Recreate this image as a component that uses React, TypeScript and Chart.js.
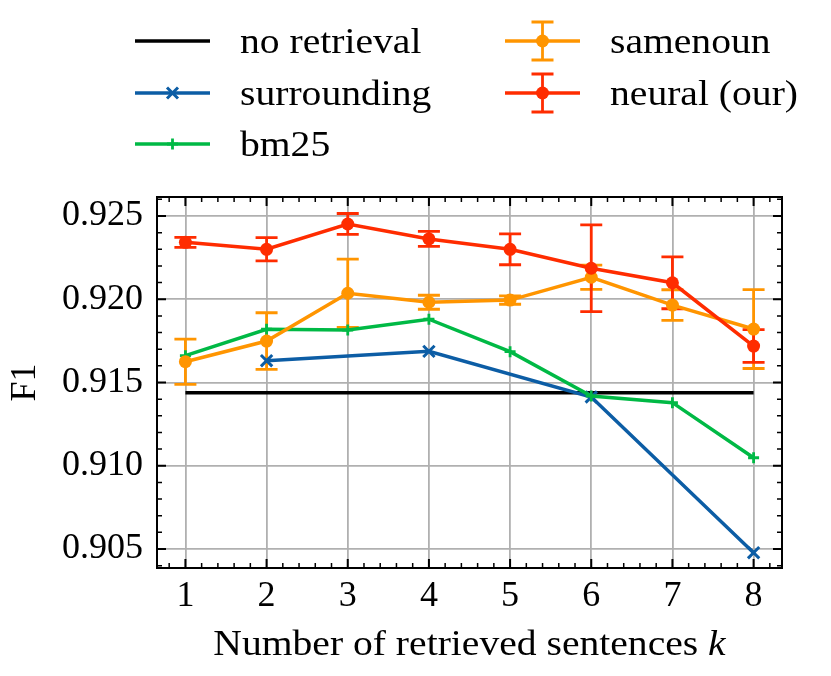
import { useEffect, useRef } from 'react';
import { Chart, registerables } from 'chart.js';

Chart.register(...registerables);

// values
const K_VALUES = [1, 2, 3, 4, 5, 6, 7, 8];
const NO_RETRIEVAL = [0.91439, 0.91439, 0.91439, 0.91439, 0.91439, 0.91439, 0.91439, 0.91439];
const SURROUNDING_K = [2, 4, 6, 8];
const SURROUNDING = [0.91631, 0.91687, 0.91413, 0.90478];
const BM25 = [0.91661, 0.9182, 0.91815, 0.9188, 0.91685, 0.91419, 0.91379, 0.91048];
const SAMENOUN = [0.91625, 0.91749, 0.92036, 0.91982, 0.91995, 0.92132, 0.91965, 0.91821];
const SAMENOUN_ERR = [0.00136, 0.0017, 0.00205, 0.00042, 0.00025, 0.00073, 0.00092, 0.00237];
const NEURAL = [0.92342, 0.923, 0.92452, 0.92362, 0.923, 0.92186, 0.92099, 0.91719];
const NEURAL_ERR = [0.0003, 0.0007, 0.00063, 0.00045, 0.00093, 0.0026, 0.00156, 0.00098];

const X_TICKS = [1, 2, 3, 4, 5, 6, 7, 8];
const Y_TICKS = [0.905, 0.91, 0.915, 0.92, 0.925];
const X_LABEL = 'Number of retrieved sentences ';
const X_LABEL_VAR = 'k';
const Y_LABEL = 'F1';

const BLACK = '#000000';
const BLUE = '#0C5DA5';
const GREEN = '#00B945';
const ORANGE = '#FF9500';
const RED = '#FF2C00';

const FONT = '"Liberation Serif", "Times New Roman", serif';
const FS = 36;
const STRETCH = 1.1; // CM text runs wider than Times
const LW = 3.5;

const pts = (ks: number[], vs: number[]) => ks.map((k, i) => ({ x: k, y: vs[i] }));

type Marker = 'none' | 'x' | 'plus' | 'circle';
const LEGEND = [
  { label: 'no retrieval', color: BLACK, marker: 'none' as Marker, err: false, col: 0, row: 0 },
  { label: 'surrounding', color: BLUE, marker: 'x' as Marker, err: false, col: 0, row: 1 },
  { label: 'bm25', color: GREEN, marker: 'plus' as Marker, err: false, col: 0, row: 2 },
  { label: 'samenoun', color: ORANGE, marker: 'circle' as Marker, err: true, col: 1, row: 0 },
  { label: 'neural (our)', color: RED, marker: 'circle' as Marker, err: true, col: 1, row: 1 },
];

function drawMarker(ctx: CanvasRenderingContext2D, m: Marker, x: number, y: number, color: string) {
  ctx.save();
  ctx.strokeStyle = color;
  ctx.fillStyle = color;
  if (m === 'circle') {
    ctx.beginPath();
    ctx.arc(x, y, 6.5, 0, Math.PI * 2);
    ctx.fill();
  } else if (m === 'x') {
    ctx.lineWidth = 3;
    ctx.beginPath();
    ctx.moveTo(x - 5.5, y - 5.5); ctx.lineTo(x + 5.5, y + 5.5);
    ctx.moveTo(x - 5.5, y + 5.5); ctx.lineTo(x + 5.5, y - 5.5);
    ctx.stroke();
  } else if (m === 'plus') {
    ctx.lineWidth = 2.8;
    ctx.beginPath();
    ctx.moveTo(x - 5.5, y); ctx.lineTo(x + 5.5, y);
    ctx.moveTo(x, y - 5.5); ctx.lineTo(x, y + 5.5);
    ctx.stroke();
  }
  ctx.restore();
}

function stretchedText(ctx: CanvasRenderingContext2D, text: string, x: number, y: number) {
  ctx.save();
  ctx.translate(x, y);
  ctx.scale(STRETCH, 1);
  ctx.fillText(text, 0, 0);
  ctx.restore();
}

const errorBars = {
  id: 'errorBars',
  beforeDatasetsDraw(chart: any) {
    const { ctx, chartArea, scales } = chart;
    const x = scales.x;
    const y = scales.y;
    ctx.save();
    ctx.beginPath();
    ctx.rect(chartArea.left, chartArea.top, chartArea.width, chartArea.height);
    ctx.clip();
    chart.data.datasets.forEach((ds: any) => {
      if (!ds.errors) return;
      ctx.strokeStyle = ds.borderColor;
      ctx.lineWidth = 2.8;
      ds.data.forEach((p: any, j: number) => {
        const px = x.getPixelForValue(p.x);
        const t = y.getPixelForValue(p.y + ds.errors[j]);
        const b = y.getPixelForValue(p.y - ds.errors[j]);
        ctx.beginPath();
        ctx.moveTo(px, t); ctx.lineTo(px, b);
        ctx.moveTo(px - 11, t); ctx.lineTo(px + 11, t);
        ctx.moveTo(px - 11, b); ctx.lineTo(px + 11, b);
        ctx.stroke();
      });
    });
    ctx.restore();
  },
};

const frame = {
  id: 'frame',
  afterDatasetsDraw(chart: any) {
    const { ctx, chartArea: a, scales } = chart;
    const x = scales.x;
    const y = scales.y;
    ctx.save();
    ctx.strokeStyle = BLACK;
    ctx.lineCap = 'butt';
    const tickX = (v: number, len: number) => {
      const px = x.getPixelForValue(v);
      ctx.moveTo(px, a.bottom); ctx.lineTo(px, a.bottom - len);
      ctx.moveTo(px, a.top); ctx.lineTo(px, a.top + len);
    };
    const tickY = (v: number, len: number) => {
      const py = y.getPixelForValue(v);
      ctx.moveTo(a.left, py); ctx.lineTo(a.left + len, py);
      ctx.moveTo(a.right, py); ctx.lineTo(a.right - len, py);
    };
    // minor ticks
    ctx.lineWidth = 1.5;
    ctx.beginPath();
    for (let i = 4; i <= 41; i++) {
      const v = i / 5;
      if (i % 5 !== 0 && v >= x.min && v <= x.max) tickX(v, 5);
    }
    for (let i = 904; i <= 926; i++) {
      const v = i / 1000;
      if (i % 5 !== 0 && v >= y.min && v <= y.max) tickY(v, 5);
    }
    ctx.stroke();
    // major ticks
    ctx.lineWidth = 2;
    ctx.beginPath();
    X_TICKS.forEach((v) => tickX(v, 9));
    Y_TICKS.forEach((v) => tickY(v, 9));
    ctx.stroke();
    ctx.lineWidth = 2;
    ctx.strokeRect(a.left, a.top, a.width, a.height);
    ctx.restore();
  },
};

const annotations = {
  id: 'annotations',
  afterDraw(chart: any) {
    const { ctx, chartArea: a } = chart;
    ctx.save();
    // legend
    const cols = [{ x0: 135, x1: 210, tx: 240 }, { x0: 505, x1: 580, tx: 610 }];
    const rows = [41, 93, 144];
    ctx.font = `${FS}px ${FONT}`;
    ctx.textBaseline = 'alphabetic';
    ctx.textAlign = 'left';
    LEGEND.forEach((e) => {
      const c = cols[e.col];
      const ry = rows[e.row];
      const cx = (c.x0 + c.x1) / 2;
      ctx.strokeStyle = e.color;
      if (e.err) {
        ctx.lineWidth = 2.8;
        ctx.beginPath();
        ctx.moveTo(cx, ry - 19); ctx.lineTo(cx, ry + 19);
        ctx.moveTo(cx - 11, ry - 19); ctx.lineTo(cx + 11, ry - 19);
        ctx.moveTo(cx - 11, ry + 19); ctx.lineTo(cx + 11, ry + 19);
        ctx.stroke();
      }
      ctx.lineWidth = LW;
      ctx.beginPath();
      ctx.moveTo(c.x0, ry); ctx.lineTo(c.x1, ry);
      ctx.stroke();
      drawMarker(ctx, e.marker, cx, ry, e.color);
      ctx.fillStyle = BLACK;
      stretchedText(ctx, e.label, c.tx, ry + 12);
    });
    // x axis title with italic variable
    ctx.font = `${FS}px ${FONT}`;
    const w1 = ctx.measureText(X_LABEL).width * STRETCH;
    ctx.font = `italic ${FS}px ${FONT}`;
    const w2 = ctx.measureText(X_LABEL_VAR).width * STRETCH;
    const sx = (a.left + a.right) / 2 - (w1 + w2) / 2;
    ctx.fillStyle = BLACK;
    ctx.font = `${FS}px ${FONT}`;
    stretchedText(ctx, X_LABEL, sx, 655);
    ctx.font = `italic ${FS}px ${FONT}`;
    stretchedText(ctx, X_LABEL_VAR, sx + w1, 655);
    ctx.restore();
  },
};

export default function App() {
  const canvasRef = useRef<HTMLCanvasElement>(null);

  useEffect(() => {
    document.body.style.margin = '0';
    if (!canvasRef.current) return;
    const ctx = canvasRef.current.getContext('2d');
    if (!ctx) return;

    const chart = new Chart(ctx, {
      type: 'line',
      data: {
        datasets: [
          {
            label: 'no retrieval',
            data: pts(K_VALUES, NO_RETRIEVAL),
            borderColor: BLACK,
            backgroundColor: BLACK,
            borderWidth: LW,
            pointRadius: 0,
            order: 5,
          },
          {
            label: 'surrounding',
            data: pts(SURROUNDING_K, SURROUNDING),
            borderColor: BLUE,
            backgroundColor: BLUE,
            borderWidth: LW,
            pointStyle: 'crossRot',
            pointRadius: 8,
            pointBorderWidth: 3,
            order: 4,
          },
          {
            label: 'bm25',
            data: pts(K_VALUES, BM25),
            borderColor: GREEN,
            backgroundColor: GREEN,
            borderWidth: LW,
            pointStyle: 'cross',
            pointRadius: 5.5,
            pointBorderWidth: 2.8,
            order: 3,
          },
          {
            label: 'samenoun',
            data: pts(K_VALUES, SAMENOUN),
            errors: SAMENOUN_ERR,
            borderColor: ORANGE,
            backgroundColor: ORANGE,
            borderWidth: LW,
            pointStyle: 'circle',
            pointRadius: 6.5,
            pointBorderWidth: 0,
            order: 2,
          },
          {
            label: 'neural (our)',
            data: pts(K_VALUES, NEURAL),
            errors: NEURAL_ERR,
            borderColor: RED,
            backgroundColor: RED,
            borderWidth: LW,
            pointStyle: 'circle',
            pointRadius: 6.5,
            pointBorderWidth: 0,
            order: 1,
          },
        ] as any,
      },
      options: {
        animation: false,
        responsive: false,
        devicePixelRatio: 1,
        layout: { padding: { top: 197, right: 49, left: 0, bottom: 0 } },
        elements: { line: { tension: 0 } },
        plugins: { legend: { display: false }, tooltip: { enabled: false } },
        scales: {
          x: {
            type: 'linear',
            min: 0.65,
            max: 8.35,
            afterBuildTicks: (s: any) => {
              s.ticks = X_TICKS.map((v) => ({ value: v }));
            },
            afterFit: (s: any) => {
              s.height = 108;
            },
            grid: { color: '#b0b0b0', lineWidth: 1.8, drawTicks: false },
            border: { display: false },
            ticks: {
              padding: 7,
              color: BLACK,
              font: { family: FONT, size: FS },
              callback: (v: any) => String(v),
              maxRotation: 0,
            },
          },
          y: {
            type: 'linear',
            min: 0.90386,
            max: 0.92614,
            afterBuildTicks: (s: any) => {
              s.ticks = Y_TICKS.map((v) => ({ value: v }));
            },
            afterFit: (s: any) => {
              s.width = 157;
            },
            grid: { color: '#b0b0b0', lineWidth: 1.8, drawTicks: false },
            border: { display: false },
            ticks: {
              padding: 14,
              color: BLACK,
              font: { family: FONT, size: FS },
              callback: (v: any) => Number(v).toFixed(3),
            },
            title: {
              display: true,
              text: Y_LABEL,
              color: BLACK,
              font: { family: FONT, size: FS },
              padding: { top: 4, bottom: 0 },
            },
          },
        },
      },
      plugins: [errorBars, frame, annotations],
    });

    return () => chart.destroy();
  }, []);

  return <canvas ref={canvasRef} width={831} height={676} style={{ display: 'block' }} />;
}
